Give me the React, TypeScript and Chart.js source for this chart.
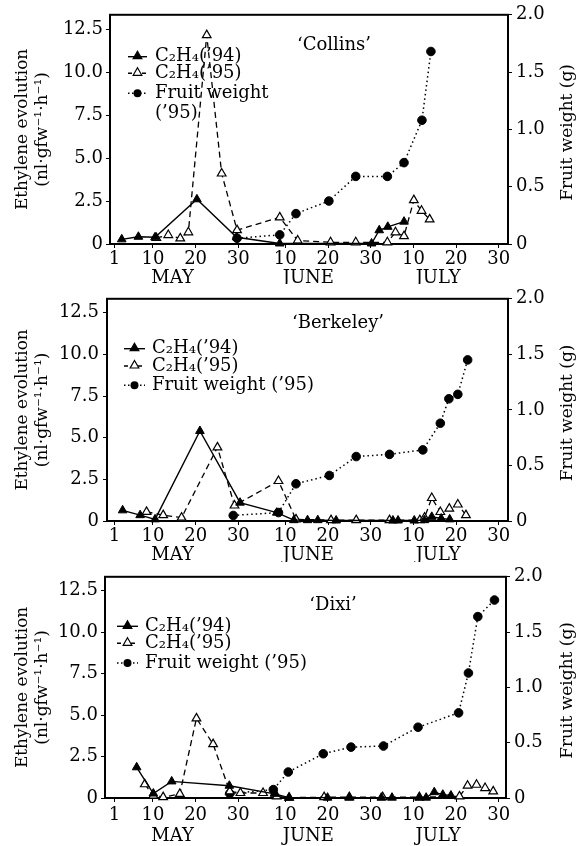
import React, { useEffect, useRef } from 'react';
import { Chart, registerables } from 'chart.js';

Chart.register(...registerables);

const FONT = '"DejaVu Serif", "Liberation Serif", serif';

// ---- axis ticks / labels ----
const xTickDays = [1, 10, 20, 30, 41, 51, 61, 71, 81, 91];
const xTickLabels = ['1', '10', '20', '30', '10', '20', '30', '10', '20', '30'];
const monthNames = ['MAY', 'JUNE', 'JULY'];
const monthCenterDays = [14.6, 46.4, 76.8];
const leftTicks = [0, 2.5, 5, 7.5, 10, 12.5];
const rightTicks = [0, 0.5, 1, 1.5, 2];
const leftTitle = ['Ethylene evolution', '(nl·gfw⁻¹·h⁻¹)'];
const rightTitle = 'Fruit weight (g)';
const label94 = 'C₂H₄(’94)';
const label95 = 'C₂H₄(’95)';

// ---- Collins (day counted from May 1 = 1; June d = 31+d; July d = 61+d) ----
const collins94Day = [2.7, 6.6, 10.5, 20.3, 29.6, 39.7, 61.2, 63, 65, 68.8];
const collins94Val = [0.27, 0.42, 0.39, 2.6, 0.39, 0.03, 0.03, 0.8, 1.0, 1.3];
const collins95Day = [10.8, 13.6, 16.4, 18.3, 22.6, 26.1, 29.7, 39.7, 43.9, 51.6, 57.5, 64.9, 66.8, 68.8, 71.1, 72.9, 74.8];
const collins95Val = [0.35, 0.52, 0.33, 0.68, 12.15, 4.1, 0.81, 1.55, 0.2, 0.1, 0.1, 0.1, 0.68, 0.46, 2.55, 1.93, 1.43];
const collinsFruitDay = [29.7, 39.7, 43.5, 51.2, 57.5, 64.9, 68.8, 73, 75.1];
const collinsFruitVal = [0.05, 0.08, 0.265, 0.375, 0.59, 0.59, 0.71, 1.08, 1.68];

// ---- Berkeley ----
const berkeley94Day = [2.9, 7, 10.5, 21, 30.4, 39, 43, 46.2, 48.6, 52.9, 66.2, 67.4, 71.2, 73.6, 75.3, 77.5, 79.5];
const berkeley94Val = [0.64, 0.35, 0.1, 5.4, 1.1, 0.5, 0.05, 0.05, 0.05, 0.03, 0.03, 0.03, 0.03, 0.05, 0.25, 0.15, 0.1];
const berkeley95Day = [8.5, 12.4, 16.7, 25.1, 29.1, 39.4, 43.5, 51.7, 57.6, 65.4, 72.5, 73.6, 75.3, 77.3, 79.4, 81.4, 83.3];
const berkeley95Val = [0.55, 0.35, 0.2, 4.42, 0.93, 2.4, 0.1, 0.05, 0.05, 0.05, 0.05, 0.2, 1.38, 0.54, 0.74, 0.99, 0.35];
const berkeleyFruitDay = [28.8, 39.4, 43.5, 51.3, 57.6, 65.4, 73.2, 77.3, 79.3, 81.4, 83.7];
const berkeleyFruitVal = [0.05, 0.076, 0.335, 0.41, 0.58, 0.6, 0.64, 0.88, 1.1, 1.14, 1.45];

// ---- Dixi ----
const dixi94Day = [6.2, 10.1, 14.4, 27.9, 38.5, 41.9, 50.9, 56, 63.5, 66, 72.4, 74, 75.9, 77.9, 79.8];
const dixi94Val = [1.85, 0.27, 1.0, 0.74, 0.25, 0.02, 0.02, 0.02, 0.02, 0.02, 0.02, 0.02, 0.35, 0.2, 0.15];
const dixi95Day = [8.1, 10.1, 12.4, 16.3, 20.2, 24.1, 28, 30.5, 35.8, 39, 41.9, 50.1, 56, 63.8, 72.4, 81.8, 83.7, 85.8, 87.8, 89.7];
const dixi95Val = [0.83, 0.15, 0.05, 0.25, 4.8, 3.25, 0.4, 0.3, 0.3, 0.1, 0.02, 0.05, 0.05, 0.05, 0.05, 0.1, 0.74, 0.8, 0.6, 0.4];
const dixiFruitDay = [28, 38.2, 41.7, 49.9, 56.4, 64, 72.1, 81.6, 83.9, 86.1, 90];
const dixiFruitVal = [0.04, 0.076, 0.235, 0.4, 0.46, 0.47, 0.64, 0.77, 1.13, 1.64, 1.79];

const toXY = (d: number[], v: number[]) => d.map((x, i) => ({ x, y: v[i] }));

type PanelCfg = {
  name: string;
  d94: number[]; v94: number[];
  d95: number[]; v95: number[];
  dF: number[]; vF: number[];
  fruitLabel: string[];
  top: number; height: number; padTop: number;
  boxLeft: number; boxRight: number; xAxisH: number;
  xMin: number; xMax: number;
  xTickPad: number; yTickPad: number; monthOffset: number;
  titleDx: number; titleDy: number;
  lgS1: number; lgS2: number; lgTx: number; lgRows: number[];
};

const panels: PanelCfg[] = [
  {
    name: '‘Collins’',
    d94: collins94Day, v94: collins94Val, d95: collins95Day, v95: collins95Val, dF: collinsFruitDay, vF: collinsFruitVal,
    fruitLabel: ['Fruit weight', '(’95)'],
    top: 0, height: 284, padTop: 14, boxLeft: 110, boxRight: 508, xAxisH: 40,
    xMin: -0.05, xMax: 93.15, xTickPad: 1, yTickPad: 3, monthOffset: 34,
    titleDx: 224, titleDy: 31, lgS1: 18, lgS2: 37, lgTx: 45, lgRows: [56.7, 73.3, 93.3, 113],
  },
  {
    name: '‘Berkeley’',
    d94: berkeley94Day, v94: berkeley94Val, d95: berkeley95Day, v95: berkeley95Val, dF: berkeleyFruitDay, vF: berkeleyFruitVal,
    fruitLabel: ['Fruit weight (’95)'],
    top: 284, height: 278, padTop: 8, boxLeft: 107, boxRight: 508, xAxisH: 41,
    xMin: -0.76, xMax: 93.15, xTickPad: 1, yTickPad: 4, monthOffset: 34,
    titleDx: 231, titleDy: 25, lgS1: 17, lgS2: 38, lgTx: 45, lgRows: [64.7, 82, 101.3],
  },
  {
    name: '‘Dixi’',
    d94: dixi94Day, v94: dixi94Val, d95: dixi95Day, v95: dixi95Val, dF: dixiFruitDay, vF: dixiFruitVal,
    fruitLabel: ['Fruit weight (’95)'],
    top: 562, height: 284, padTop: 7, boxLeft: 105, boxRight: 506, xAxisH: 48,
    xMin: -1.22, xMax: 92.7, xTickPad: 3, yTickPad: 3, monthOffset: 38,
    titleDx: 228, titleDy: 29, lgS1: 12, lgS2: 33, lgTx: 40, lgRows: [64.3, 81.3, 101],
  },
];

function drawTri(ctx: CanvasRenderingContext2D, x: number, y: number, r: number, fill: string) {
  ctx.save();
  ctx.setLineDash([]);
  ctx.beginPath();
  for (let i = 0; i < 3; i++) {
    const a = (i * 2 * Math.PI) / 3;
    const px = x + Math.sin(a) * r;
    const py = y - Math.cos(a) * r;
    if (i === 0) ctx.moveTo(px, py); else ctx.lineTo(px, py);
  }
  ctx.closePath();
  ctx.fillStyle = fill;
  ctx.fill();
  ctx.lineWidth = 1.2;
  ctx.strokeStyle = '#000';
  ctx.stroke();
  ctx.restore();
}

function Panel({ cfg }: { cfg: PanelCfg }) {
  const ref = useRef<HTMLCanvasElement | null>(null);
  useEffect(() => {
    if (!ref.current) return;
    const W = 576;
    const decor = {
      id: 'decor',
      beforeDatasetsDraw(chart: any) {
        const { ctx, chartArea: a } = chart;
        ctx.save();
        ctx.strokeStyle = '#000';
        ctx.lineWidth = 2;
        ctx.setLineDash([]);
        ctx.strokeRect(a.left, a.top, a.right - a.left, a.bottom - a.top);
        ctx.restore();
      },
      afterDraw(chart: any) {
        const { ctx, chartArea: a } = chart;
        ctx.save();
        ctx.fillStyle = '#000';
        ctx.font = `18px ${FONT}`;
        ctx.textBaseline = 'middle';
        // month labels
        ctx.textAlign = 'center';
        monthNames.forEach((m, i) => {
          const x = chart.scales.x.getPixelForValue(monthCenterDays[i]);
          ctx.fillText(m, x, a.bottom + cfg.monthOffset);
        });
        // cultivar name
        ctx.fillText(cfg.name, a.left + cfg.titleDx, a.top + cfg.titleDy);
        // right axis title, read bottom-to-top
        ctx.save();
        ctx.font = `17px ${FONT}`;
        ctx.translate(W - 8.5, (a.top + a.bottom) / 2 + 3);
        ctx.rotate(-Math.PI / 2);
        ctx.textAlign = 'center';
        ctx.fillText(rightTitle, 0, 0);
        ctx.restore();
        // legend
        const x1 = a.left + cfg.lgS1;
        const x2 = a.left + cfg.lgS2;
        const xm = (x1 + x2) / 2;
        const tx = a.left + cfg.lgTx;
        const rows = cfg.lgRows;
        ctx.strokeStyle = '#000';
        ctx.lineWidth = 1.4;
        // '94
        ctx.setLineDash([]);
        ctx.beginPath(); ctx.moveTo(x1, rows[0]); ctx.lineTo(x2, rows[0]); ctx.stroke();
        drawTri(ctx, xm, rows[0] - 0.5, 5, '#000');
        // '95
        ctx.setLineDash([4, 3]);
        ctx.beginPath(); ctx.moveTo(x1, rows[1]); ctx.lineTo(x2, rows[1]); ctx.stroke();
        drawTri(ctx, xm, rows[1] - 0.5, 5, '#fff');
        // fruit
        ctx.setLineDash([1.5, 2.5]);
        ctx.beginPath(); ctx.moveTo(x1, rows[2]); ctx.lineTo(x2, rows[2]); ctx.stroke();
        ctx.setLineDash([]);
        ctx.beginPath(); ctx.arc(xm, rows[2], 4, 0, Math.PI * 2); ctx.fill();
        ctx.textAlign = 'left';
        ctx.fillText(label94, tx, rows[0]);
        ctx.fillText(label95, tx, rows[1]);
        cfg.fruitLabel.forEach((t, i) => ctx.fillText(t, tx, rows[2 + i]));
        ctx.restore();
      },
    };

    const chart = new Chart(ref.current, {
      type: 'scatter',
      data: {
        datasets: [
          {
            label: label94,
            data: toXY(cfg.d94, cfg.v94),
            yAxisID: 'y',
            showLine: true,
            borderColor: '#000',
            backgroundColor: '#000',
            borderWidth: 1.4,
            pointStyle: 'triangle',
            pointRadius: 5,
            pointBorderWidth: 1,
            pointBackgroundColor: '#000',
            pointBorderColor: '#000',
            clip: false,
          } as any,
          {
            label: label95,
            data: toXY(cfg.d95, cfg.v95),
            yAxisID: 'y',
            showLine: true,
            borderColor: '#000',
            backgroundColor: '#fff',
            borderWidth: 1.3,
            borderDash: [6, 4],
            pointStyle: 'triangle',
            pointRadius: 5,
            pointBorderWidth: 1.2,
            pointBackgroundColor: '#fff',
            pointBorderColor: '#000',
            clip: false,
          } as any,
          {
            label: cfg.fruitLabel.join(' '),
            data: toXY(cfg.dF, cfg.vF),
            yAxisID: 'y1',
            showLine: true,
            borderColor: '#000',
            backgroundColor: '#000',
            borderWidth: 1.5,
            borderDash: [1.5, 3],
            pointStyle: 'circle',
            pointRadius: 4.3,
            pointBorderWidth: 1,
            pointBackgroundColor: '#000',
            pointBorderColor: '#000',
            clip: false,
          } as any,
        ],
      },
      options: {
        responsive: false,
        animation: false,
        devicePixelRatio: 1,
        layout: { padding: { top: cfg.padTop, left: 0, right: 0, bottom: 0 } },
        plugins: { legend: { display: false }, tooltip: { enabled: false }, title: { display: false } },
        scales: {
          x: {
            type: 'linear',
            min: cfg.xMin,
            max: cfg.xMax,
            afterBuildTicks: (s: any) => { s.ticks = xTickDays.map((v) => ({ value: v })); },
            afterFit: (s: any) => { s.height = cfg.xAxisH; },
            ticks: {
              autoSkip: false,
              maxRotation: 0,
              minRotation: 0,
              padding: cfg.xTickPad,
              color: '#000',
              font: { family: FONT, size: 18 },
              callback: (v: any) => {
                const i = xTickDays.indexOf(Number(v));
                return i >= 0 ? xTickLabels[i] : '';
              },
            },
            grid: { display: true, drawOnChartArea: false, drawTicks: true, tickLength: 4, color: '#000', lineWidth: 1 },
            border: { display: false },
          },
          y: {
            type: 'linear',
            position: 'left',
            min: 0,
            max: 40 / 3,
            afterBuildTicks: (s: any) => { s.ticks = leftTicks.map((v) => ({ value: v })); },
            afterFit: (s: any) => { s.width = cfg.boxLeft; },
            ticks: {
              padding: cfg.yTickPad,
              color: '#000',
              font: { family: FONT, size: 18 },
              callback: (v: any) => (Number(v) === 0 ? '0' : Number(v).toFixed(1)),
            },
            grid: { display: true, drawOnChartArea: false, drawTicks: true, tickLength: 4, color: '#000', lineWidth: 1 },
            border: { display: false },
            title: {
              display: true,
              text: leftTitle,
              color: '#000',
              font: { family: FONT, size: 17, lineHeight: 1.2 },
              padding: { top: 12, bottom: 0 },
            },
          },
          y1: {
            type: 'linear',
            position: 'right',
            min: 0,
            max: 2,
            afterBuildTicks: (s: any) => { s.ticks = rightTicks.map((v) => ({ value: v })); },
            afterFit: (s: any) => { s.width = W - cfg.boxRight; },
            ticks: {
              padding: 4,
              color: '#000',
              font: { family: FONT, size: 18 },
              callback: (v: any) => (Number(v) === 0 ? '0' : Number(v).toFixed(1)),
            },
            grid: { display: true, drawOnChartArea: false, drawTicks: true, tickLength: 4, color: '#000', lineWidth: 1 },
            border: { display: false },
            title: { display: false },
          },
        },
      } as any,
      plugins: [decor],
    });
    return () => chart.destroy();
  }, [cfg]);

  return (
    <div style={{ position: 'absolute', left: 0, top: cfg.top, width: 576, height: cfg.height }}>
      <canvas ref={ref} width={576} height={cfg.height} style={{ display: 'block', width: 576, height: cfg.height }} />
    </div>
  );
}

export default function App() {
  return (
    <div style={{ position: 'absolute', left: 0, top: 0, width: 576, height: 846, background: '#fff', overflow: 'hidden' }}>
      {panels.map((p) => (
        <Panel key={p.name} cfg={p} />
      ))}
    </div>
  );
}
